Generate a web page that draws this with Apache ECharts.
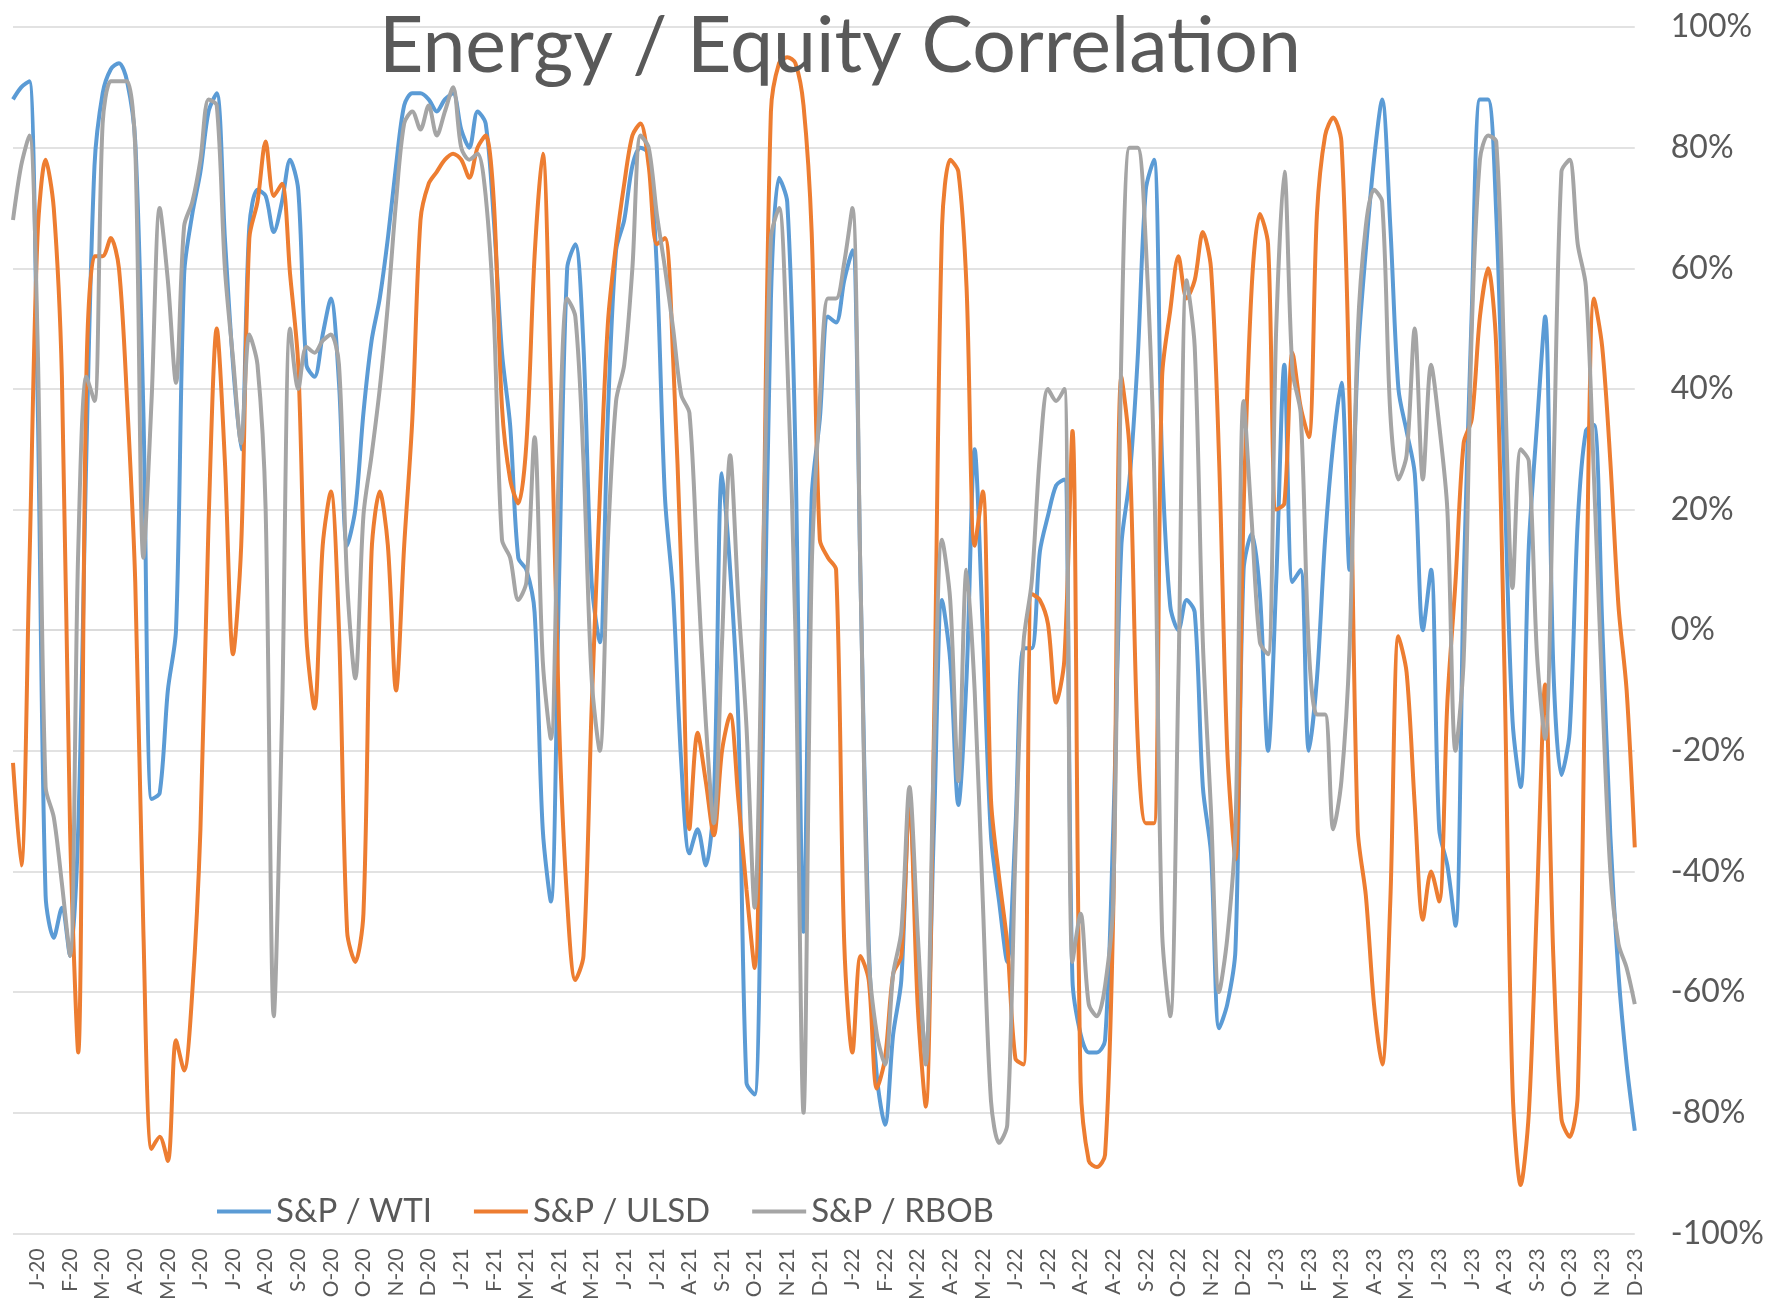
<!DOCTYPE html>
<html>
<head>
<meta charset="utf-8">
<title>Energy / Equity Correlation</title>
<script src="https://cdn.jsdelivr.net/npm/echarts@6/dist/echarts.min.js"></script>
<style>
  html, body { margin: 0; padding: 0; background: #fff; }
  #chartLine1 { width: 1767px; height: 1303px; }
</style>
</head>
<body>
<div id="chartLine1"></div>
<script>
'use strict';

/************************ DATA *************************/
// axis labels, one every 4 points (Excel puts one each ~20 trading days)
var monthLabels = [
  'J-20','F-20','M-20','A-20','M-20','J-20','J-20','A-20','S-20','O-20','O-20','N-20','D-20',
  'J-21','F-21','M-21','A-21','M-21','J-21','J-21','A-21','S-21','O-21','N-21','D-21',
  'J-22','F-22','M-22','A-22','M-22','J-22','J-22','A-22','A-22','S-22','O-22','N-22','D-22',
  'J-23','F-23','M-23','A-23','M-23','J-23','J-23','A-23','S-23','O-23','N-23','D-23'
];
var pointsPerLabel = 4;

var yTicks = [-100, -80, -60, -40, -20, 0, 20, 40, 60, 80, 100];

// correlations in %
var spWti = [
  88, 90, 91, 40, -44, -51, -46, -54, -33, 29,
  77, 89, 93, 94, 91, 81, 36, -28, -27, -10,
  0, 59, 69, 76, 86, 89, 65, 44, 30, 67,
  73, 72, 66, 71, 78, 73, 44, 42, 49, 55,
  41, 14, 20, 36, 48, 55, 65, 77, 87, 89,
  89, 88, 86, 88, 89, 83, 80, 86, 84, 68,
  46, 34, 12, 10, 3, -33, -45, 8, 60, 64,
  47, 8, -2, 36, 63, 68, 77, 80, 79, 60,
  22, 6, -22, -37, -33, -39, -28, 26, 10, -15,
  -75, -77, -20, 55, 75, 71, 30, -50, 22, 35,
  52, 51, 58, 63, 8, -52, -74, -82, -67, -58,
  -28, -55, -70, -33, 5, -5, -29, -8, 30, 0,
  -34, -45, -55, -33, -3, -3, 13, 19, 24, 25,
  -58, -67, -70, -70, -68, -33, 14, 25, 45, 73,
  78, 28, 4, 0, 5, 3, -26, -37, -66, -62,
  -53, 10, 16, 6, -20, 8, 44, 8, 10, -20,
  -8, 15, 31, 41, 10, 45, 63, 78, 88, 67,
  40, 33, 26, 0, 10, -33, -39, -49, 8, 53,
  88, 88, 69, 26, -15, -26, 14, 34, 52, -6,
  -24, -17, 18, 33, 34, 1, -34, -57, -72, -83
];

var spUlsd = [
  -22, -39, 10, 65, 78, 70, 42, -33, -70, 42,
  62, 62, 65, 60, 38, 8, -50, -86, -84, -88,
  -68, -73, -60, -33, 18, 50, 28, -4, 14, 65,
  71, 81, 72, 74, 59, 44, -1, -13, 14, 23,
  0, -50, -55, -47, 13, 23, 14, -10, 14, 35,
  68, 74, 76, 78, 79, 78, 75, 80, 82, 71,
  37, 25, 21, 31, 62, 79, 40, -15, -45, -58,
  -54, -13, 22, 51, 64, 74, 82, 84, 77, 64,
  65, 45, 10, -33, -17, -25, -34, -20, -14, -28,
  -43, -56, 7, 86, 94, 95, 94, 87, 66, 15,
  12, 10, -52, -70, -54, -58, -76, -71, -57, -54,
  -28, -62, -79, -17, 67, 78, 76, 57, 14, 23,
  -28, -41, -52, -71, -72, 6, 5, 1, -12, -5,
  33, -75, -88, -89, -87, -47, 42, 30, -18, -32,
  -32, 42, 53, 62, 55, 58, 66, 60, 28, -20,
  -38, 20, 57, 69, 64, 20, 21, 46, 37, 32,
  69, 82, 85, 81, 38, -33, -44, -62, -72, -45,
  -1, -7, -29, -48, -40, -45, -12, 8, 31, 35,
  52, 60, 47, -6, -76, -92, -80, -45, -9, -54,
  -81, -84, -77, 0, 55, 47, 28, 4, -10, -36
];

var spRbob = [
  68, 77, 82, 49, -26, -31, -42, -54, 13, 42,
  38, 84, 91, 91, 91, 80, 12, 38, 70, 58,
  41, 67, 71, 78, 88, 87, 60, 45, 31, 49,
  44, 20, -64, -15, 50, 40, 47, 46, 48, 49,
  44, 8, -8, 19, 29, 40, 54, 71, 84, 86,
  83, 87, 82, 86, 90, 80, 78, 79, 72, 52,
  15, 12, 5, 8, 32, -5, -18, 28, 55, 52,
  28, -8, -20, 15, 38, 44, 60, 82, 80, 69,
  60, 50, 39, 36, 10, -15, -32, -2, 29, 5,
  -16, -46, 8, 65, 70, 45, 0, -80, 10, 38,
  55, 55, 61, 70, 8, -54, -67, -72, -57, -50,
  -26, -50, -72, -20, 15, 5, -25, 10, -10, -45,
  -78, -85, -82, -37, -2, 8, 29, 40, 38, 40,
  -55, -47, -62, -64, -59, -45, 46, 80, 80, 64,
  28, -50, -64, -8, 58, 47, -2, -30, -60, -51,
  -33, 38, 18, -2, -4, 50, 76, 43, 36, -3,
  -14, -14, -33, -25, -3, 49, 67, 73, 71, 36,
  25, 29, 50, 25, 44, 34, 20, -20, -5, 50,
  78, 82, 81, 44, 7, 30, 28, -4, -18, 25,
  76, 78, 64, 57, 25, -10, -40, -52, -56, -62
];

// one category per point, named after the label period it falls in
var categories = [];
for (var i = 0; i < spWti.length; i++) {
  categories.push(monthLabels[Math.min(Math.floor(i / pointsPerLabel), monthLabels.length - 1)]);
}

/************************ LINE CHART *************************/
var chart = document.getElementById('chartLine1');
var lineChart = echarts.init(chart, null, { renderer: 'canvas' });

var fontName = 'Lato, "Open Sans", sans-serif';

function lineSeries(name, data, color) {
  return {
    name: name,
    type: 'line',
    data: data,
    showSymbol: false,
    smooth: 0.3,
    color: color,
    lineStyle: { width: 4, color: color }
  };
}

var option = {
  backgroundColor: '#ffffff',
  animation: false,
  textStyle: { fontFamily: fontName },
  title: {
    text: 'Energy / Equity Correlation',
    left: 374,
    top: 4,
    textStyle: {
      fontFamily: fontName,
      fontSize: 77,
      fontWeight: 'normal',
      color: '#595959'
    }
  },
  legend: {
    left: 212,
    top: 1190,
    icon: 'rect',
    itemWidth: 54,
    itemHeight: 4,
    itemGap: 42,
    textStyle: {
      fontFamily: fontName,
      fontSize: 33,
      color: '#595959'
    },
    data: ['S&P / WTI', 'S&P / ULSD', 'S&P / RBOB']
  },
  grid: {
    top: 27,
    right: 127,
    bottom: 69,
    left: 13
  },
  xAxis: {
    type: 'category',
    data: categories,
    boundaryGap: false,
    axisLine: {
      lineStyle: { color: '#D9D9D9', width: 1.5 }
    },
    axisTick: { show: false },
    axisLabel: {
      interval: function (idx) { return idx % pointsPerLabel === pointsPerLabel - 1; },
      rotate: 90,
      margin: 15,
      fontFamily: fontName,
      fontSize: 21,
      color: '#595959'
    },
    splitLine: { show: false }
  },
  yAxis: {
    type: 'value',
    position: 'right',
    min: yTicks[0],
    max: yTicks[yTicks.length - 1],
    interval: yTicks[1] - yTicks[0],
    axisLine: { show: false },
    axisTick: { show: false },
    axisLabel: {
      margin: 36,
      fontFamily: fontName,
      fontSize: 32,
      color: '#595959',
      formatter: function (v) { return v + '%'; }
    },
    splitLine: {
      lineStyle: { color: '#D9D9D9', width: 1.5 }
    }
  },
  series: [
    lineSeries('S&P / WTI', spWti, '#5B9BD5'),
    lineSeries('S&P / ULSD', spUlsd, '#ED7D31'),
    lineSeries('S&P / RBOB', spRbob, '#A5A5A5')
  ]
};

lineChart.setOption(option);
</script>
</body>
</html>
